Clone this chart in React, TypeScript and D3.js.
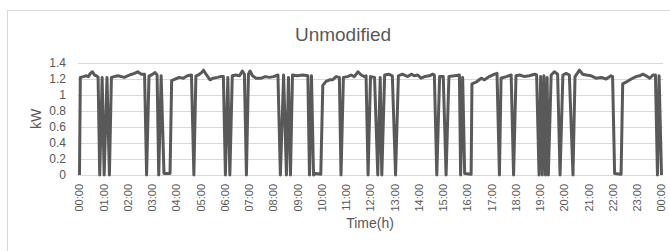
import React, { useEffect, useRef } from 'react';
import * as d3 from 'd3';

// power readings: [time, kW]
const readings: [string, number][] = [
  ['00:00', 0], ['00:02', 1.22], ['00:10', 1.23], ['00:17', 1.24], ['00:22', 1.23], ['00:27', 1.27],
  ['00:32', 1.29], ['00:37', 1.25], ['00:42', 1.24], ['00:46', 1.22], ['00:50', 0], ['00:56', 1.22],
  ['01:01', 0], ['01:08', 1.22], ['01:14', 0], ['01:19', 1.22], ['01:35', 1.24], ['01:51', 1.22],
  ['02:04', 1.25], ['02:16', 1.27], ['02:24', 1.29], ['02:33', 1.26], ['02:41', 1.26], ['02:46', 0],
  ['02:52', 1.24], ['02:58', 1.25], ['03:07', 1.28], ['03:12', 1.25], ['03:16', 0], ['03:22', 1.24],
  ['03:29', 0.02], ['03:44', 0.02], ['03:48', 1.18], ['03:57', 1.2], ['04:07', 1.22], ['04:17', 1.21],
  ['04:27', 1.24], ['04:37', 1.25], ['04:43', 0], ['04:48', 1.24], ['04:54', 1.25], ['05:02', 1.28],
  ['05:07', 1.31], ['05:13', 1.26], ['05:23', 1.19], ['05:31', 1.21], ['05:41', 1.22], ['05:49', 1.23],
  ['05:56', 1.23], ['06:01', 0], ['06:07', 1.22], ['06:12', 0], ['06:18', 1.24], ['06:26', 1.25],
  ['06:36', 1.24], ['06:43', 1.3], ['06:48', 1.26], ['06:53', 0], ['06:58', 1.26], ['07:02', 1.3],
  ['07:08', 1.24], ['07:17', 1.21], ['07:30', 1.21], ['07:40', 1.23], ['07:50', 1.22], ['08:00', 1.23],
  ['08:11', 1.25], ['08:17', 0], ['08:25', 1.25], ['08:32', 0], ['08:37', 1.22], ['08:42', 0],
  ['08:47', 1.25], ['08:59', 1.24], ['09:12', 1.25], ['09:25', 1.24], ['09:29', 0], ['09:34', 1.24],
  ['09:39', 0], ['09:44', 0.02], ['09:57', 0.01], ['10:02', 1.12], ['10:10', 1.17], ['10:19', 1.19],
  ['10:26', 1.19], ['10:35', 1.23], ['10:43', 1.22], ['10:47', 0], ['10:53', 1.22], ['11:03', 1.23],
  ['11:12', 1.25], ['11:20', 1.23], ['11:29', 1.29], ['11:37', 1.25], ['11:45', 1.23], ['11:49', 1.24],
  ['11:54', 0], ['12:00', 1.23], ['12:10', 1.22], ['12:18', 0], ['12:24', 1.22], ['12:28', 0],
  ['12:35', 1.25], ['12:45', 1.26], ['12:54', 1.24], ['13:02', 0], ['13:09', 1.24], ['13:19', 1.26],
  ['13:32', 1.23], ['13:41', 1.26], ['13:49', 1.24], ['13:57', 1.25], ['14:05', 1.21], ['14:14', 1.23],
  ['14:26', 1.24], ['14:34', 1.26], ['14:38', 1.25], ['14:44', 0], ['14:51', 1.23], ['15:00', 1.23],
  ['15:07', 0], ['15:14', 1.23], ['15:28', 1.24], ['15:40', 1.25], ['15:43', 0], ['15:48', 1.22],
  ['15:53', 0.02], ['16:09', 0.01], ['16:11', 1.14], ['16:21', 1.16], ['16:34', 1.21], ['16:42', 1.19],
  ['16:54', 1.23], ['17:07', 1.26], ['17:13', 1.27], ['17:19', 0], ['17:23', 1.21], ['17:36', 1.23],
  ['17:48', 1.25], ['17:54', 0], ['18:00', 1.24], ['18:09', 1.25], ['18:21', 1.23], ['18:33', 1.24],
  ['18:46', 1.26], ['18:51', 1.25], ['18:57', 0], ['19:01', 1.23], ['19:05', 0], ['19:09', 1.24],
  ['19:13', 0], ['19:17', 1.22], ['19:20', 0], ['19:27', 1.25], ['19:35', 1.29], ['19:43', 1.26],
  ['19:49', 0], ['19:56', 1.25], ['20:04', 1.27], ['20:12', 1.25], ['20:21', 0], ['20:26', 1.23],
  ['20:37', 1.31], ['20:45', 1.26], ['20:54', 1.25], ['21:06', 1.24], ['21:18', 1.21], ['21:31', 1.22],
  ['21:43', 1.2], ['21:55', 1.24], ['21:59', 1.23], ['22:04', 0.02], ['22:20', 0.01], ['22:24', 1.14],
  ['22:32', 1.16], ['22:45', 1.2], ['22:57', 1.23], ['23:06', 1.24], ['23:14', 1.26], ['23:22', 1.24],
  ['23:31', 1.21], ['23:39', 1.25], ['23:45', 1.25], ['23:50', 0], ['23:54', 1.24], ['24:00', 0],
];

const yTicks = [0, 0.2, 0.4, 0.6, 0.8, 1, 1.2, 1.4];
const hourLabels = [
  '00:00', '01:00', '02:00', '03:00', '04:00', '05:00', '06:00', '07:00', '08:00',
  '09:00', '10:00', '11:00', '12:00', '13:00', '14:00', '15:00', '16:00', '17:00',
  '18:00', '19:00', '20:00', '21:00', '22:00', '23:00', '00:00',
];

const toMin = (t: string) => {
  const [h, m] = t.split(':').map(Number);
  return h * 60 + m;
};

export default function App() {
  const svgRef = useRef<SVGSVGElement>(null);

  useEffect(() => {
    const width = 670;
    const height = 251;
    const font = "'Liberation Sans', Arial, sans-serif";
    const textColor = '#595959';

    const svg = d3.select(svgRef.current).attr('width', width).attr('height', height);
    svg.selectAll('*').remove();

    svg.append('rect').attr('width', width).attr('height', height).attr('fill', '#fff');
    svg
      .append('rect')
      .attr('x', 7.5)
      .attr('y', 10.5)
      .attr('width', 700)
      .attr('height', 300)
      .attr('fill', 'none')
      .attr('stroke', '#d9d9d9');

    const x = d3.scaleLinear().domain([0, 1440]).range([79.5, 661.5]);
    const y = d3.scaleLinear().domain([0, 1.4]).range([175, 63]);

    // gridlines
    svg
      .append('g')
      .selectAll('line')
      .data(yTicks)
      .join('line')
      .attr('x1', 78)
      .attr('x2', 663)
      .attr('y1', (d) => Math.round(y(d)) + 0.5)
      .attr('y2', (d) => Math.round(y(d)) + 0.5)
      .attr('stroke', '#d9d9d9')
      .attr('stroke-width', 1);

    // y tick labels
    svg
      .append('g')
      .selectAll('text')
      .data(yTicks)
      .join('text')
      .attr('x', 66)
      .attr('y', (d) => y(d))
      .attr('dy', '0.35em')
      .attr('text-anchor', 'end')
      .attr('font-family', font)
      .attr('font-size', 12)
      .attr('fill', textColor)
      .text((d) => d3.format('~g')(d));

    // x tick labels
    svg
      .append('g')
      .selectAll('text')
      .data(hourLabels)
      .join('text')
      .attr('transform', (_d, i) => `translate(${x(i * 60)},184) rotate(-90)`)
      .attr('dy', '0.35em')
      .attr('text-anchor', 'end')
      .attr('font-family', font)
      .attr('font-size', 11)
      .attr('fill', textColor)
      .text((d) => d);

    const line = d3
      .line<[string, number]>()
      .x((d) => x(toMin(d[0])))
      .y((d) => y(d[1]));

    svg
      .append('path')
      .datum(readings)
      .attr('d', line)
      .style('fill', 'none')
      .style('stroke', '#595959')
      .style('stroke-width', 3)
      .style('stroke-linejoin', 'round');

    svg
      .append('text')
      .attr('x', 343)
      .attr('y', 41)
      .attr('text-anchor', 'middle')
      .attr('font-family', font)
      .attr('font-size', 19)
      .attr('fill', textColor)
      .text('Unmodified');

    svg
      .append('text')
      .attr('transform', 'translate(36,119) rotate(-90)')
      .attr('dy', '0.35em')
      .attr('text-anchor', 'middle')
      .attr('font-family', font)
      .attr('font-size', 14)
      .attr('fill', textColor)
      .text('kW');

    svg
      .append('text')
      .attr('x', 370)
      .attr('y', 228)
      .attr('text-anchor', 'middle')
      .attr('font-family', font)
      .attr('font-size', 14)
      .attr('fill', textColor)
      .text('Time(h)');
  }, []);

  return <svg ref={svgRef} style={{ position: 'absolute', left: 0, top: 0 }}></svg>;
}
